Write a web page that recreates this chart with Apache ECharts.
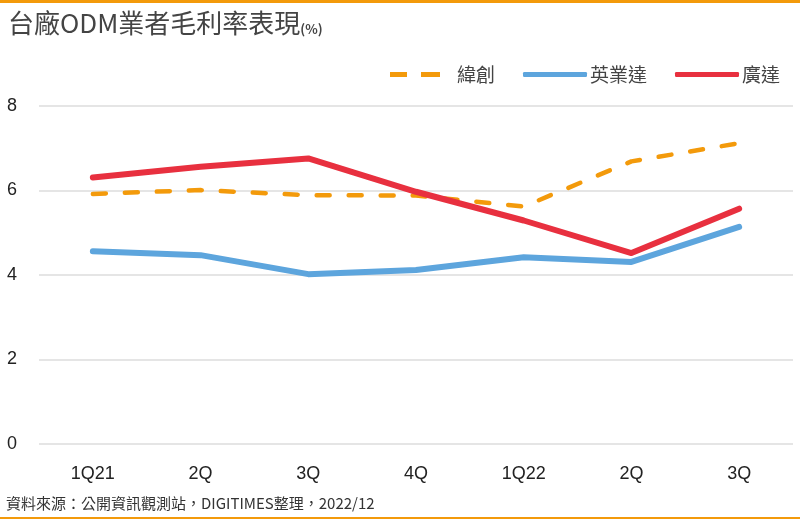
<!DOCTYPE html>
<html>
<head>
<meta charset="utf-8">
<script src="https://cdn.jsdelivr.net/npm/echarts@6/dist/echarts.min.js"></script>
<style>
  html, body { margin: 0; padding: 0; background: #fff; }
  #chart { width: 800px; height: 519px; }
</style>
</head>
<body>
<div id="chart"></div>
<script>
const quarters = ['1Q21', '2Q', '3Q', '4Q', '1Q22', '2Q', '3Q']
const wistron = [5.92, 6.01, 5.89, 5.88, 5.62, 6.69, 7.12]
const inventec = [4.56, 4.47, 4.02, 4.12, 4.42, 4.31, 5.14]
const quanta = [6.31, 6.56, 6.76, 5.97, 5.29, 4.52, 5.57]
const yTicks = [0, 2, 4, 6, 8]

const font = '"Noto Sans CJK TC", "Liberation Sans", sans-serif'
const latin = '"Liberation Sans", Arial, sans-serif'
const orange = '#F39A0B'
const blue = '#5DA5DD'
const red = '#E8303F'

const chart = echarts.init(document.getElementById('chart'))

chart.setOption({
  backgroundColor: '#fff',
  textStyle: { fontFamily: font },
  graphic: [
    { type: 'rect', shape: { x: 0, y: 0, width: 800, height: 3 }, style: { fill: orange } },
    { type: 'rect', shape: { x: 0, y: 517, width: 800, height: 2 }, style: { fill: orange } },
    {
      type: 'text', left: 6, top: 496,
      style: { text: '資料來源：公開資訊觀測站，DIGITIMES整理，2022/12', font: '15px ' + font, fill: '#333' }
    }
  ],
  title: {
    text: '{a|台廠ODM業者毛利率表現}{b|(%)}',
    left: 3,
    top: 5,
    textStyle: {
      rich: {
        a: { fontSize: 26, color: '#444', fontFamily: font, fontWeight: 'normal' },
        b: { fontSize: 13, color: '#444', fontFamily: font, verticalAlign: 'bottom', padding: [10, 0, 0, 0] }
      }
    }
  },
  legend: {
    right: 15,
    top: 60,
    itemWidth: 64,
    itemHeight: 5,
    itemGap: 28,
    textStyle: { fontSize: 19, color: '#444', fontFamily: font, padding: [0, 0, 0, -2] },
    data: [
      { name: '緯創', icon: 'path://M0,0h17v5h-17z M31,0h19v5h-19z M64,0L64,5', itemStyle: { color: orange } },
      { name: '英業達', icon: 'roundRect' },
      { name: '廣達', icon: 'roundRect' }
    ]
  },
  grid: { left: 39, right: 7, top: 106, bottom: 75 },
  xAxis: {
    type: 'category',
    data: quarters,
    axisLine: { show: false },
    axisTick: { show: false },
    axisLabel: { fontSize: 18, color: '#222', margin: 21, fontFamily: latin }
  },
  yAxis: {
    type: 'value',
    min: yTicks[0],
    max: yTicks[yTicks.length - 1],
    interval: 2,
    axisLine: { show: false },
    axisTick: { show: false },
    axisLabel: { fontSize: 18, color: '#222', margin: 18, align: 'left', padding: [0, 0, 0, -14], fontFamily: latin },
    splitLine: { lineStyle: { color: '#dcdcdc', width: 1.5 } }
  },
  series: [
    {
      name: '緯創', type: 'line', data: wistron, symbol: 'none',
      color: orange,
      lineStyle: { width: 4.5, type: [13, 19], cap: 'round', color: orange }
    },
    {
      name: '英業達', type: 'line', data: inventec, symbol: 'none',
      color: blue,
      lineStyle: { width: 6, cap: 'round', join: 'round', color: blue }
    },
    {
      name: '廣達', type: 'line', data: quanta, symbol: 'none',
      color: red,
      lineStyle: { width: 6, cap: 'round', join: 'round', color: red }
    }
  ]
})
</script>
</body>
</html>
